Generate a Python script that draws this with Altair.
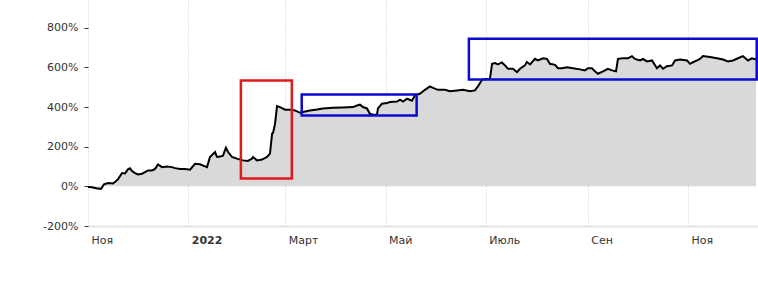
import altair as alt
import pandas as pd

# Day offsets from 2021-11-01 and portfolio return (%)
days = [0, 2.4, 4.9, 7.9, 9.7, 12.2, 15.2, 16.4, 18.2, 20.7, 22.5, 24.3, 25.5, 26.8, 28.6,
        30.4, 32.8, 34.7, 36.5, 38.9, 40.8, 42.6, 45.0, 48.1, 51.1, 52.9, 56.0, 59.0, 62.1,
        65.1, 68.1, 71.2, 72.4, 74.2, 77.3, 78.5, 80.3, 82.1, 83.9, 85.2, 87.6, 90.6, 94.3,
        97.3, 99.8, 100.4, 102.8, 105.9, 108.9, 110.7, 112.0, 112.6, 113.8, 115.0, 116.8,
        119.9, 122.9, 125.9, 129.0, 130.8, 135.0, 139.3, 142.9, 149.0, 155.1, 161.2, 163.6,
        165.4, 167.3, 169.7, 171.5, 173.4, 175.8, 176.4, 178.8, 181.9, 183.7, 188.0, 189.8,
        191.6, 194.1, 197.1, 198.9, 201.9, 205.0, 208.0, 209.9, 212.9, 217.2, 220.2, 224.5,
        228.1, 232.4, 235.4, 237.2, 239.7, 242.7, 244.5, 245.8, 247.6, 249.4, 251.8, 253.7,
        255.5, 258.5, 261.0, 262.8, 265.8, 267.0, 268.9, 271.9, 273.7, 276.8, 279.2, 281.0,
        284.1, 285.9, 288.3, 291.4, 295.0, 299.3, 302.3, 304.2, 306.6, 308.4, 310.2, 313.3,
        316.3, 318.8, 321.2, 322.4, 325.4, 328.5, 330.9, 332.7, 335.8, 337.6, 340.0, 343.1,
        346.1, 348.0, 349.8, 352.2, 355.3, 357.1, 360.1, 364.4, 366.2, 368.0, 370.5, 372.3,
        374.1, 378.4, 382.6, 386.3, 389.3, 392.4, 395.4, 398.4, 401.5, 403.9, 406.4]
returns = [-3, -5, -10, -13, 10, 17, 15, 22, 35, 67, 65, 86, 91, 77, 67,
           60, 63, 72, 80, 80, 88, 111, 97, 100, 97, 92, 87, 88, 84,
           114, 111, 101, 97, 148, 173, 148, 150, 155, 195, 173, 148, 140, 131,
           128, 140, 148, 131, 135, 148, 165, 266, 270, 316, 405, 400,
           387, 387, 383, 371, 375, 383, 388, 393, 397, 398, 400, 408,
           412, 400, 393, 366, 361, 363, 393, 417, 420, 425, 428, 437,
           428, 442, 432, 459, 467, 487, 504, 497, 487, 487, 480, 484,
           487, 480, 484, 504, 538, 541, 541, 618, 622, 615, 625, 610,
           593, 593, 576, 593, 610, 627, 615, 643, 635, 646, 643, 618,
           613, 596, 596, 601, 596, 590, 585, 596, 596, 580, 568, 580,
           593, 585, 580, 643, 646, 646, 657, 643, 635, 643, 630, 635,
           596, 610, 593, 606, 610, 635, 640, 635, 618, 626, 635, 643,
           657, 652, 646, 640, 630, 635, 646, 657, 635, 646, 640]

# Highlight boxes
box_start = ["2022-02-02T00:00:00", "2022-03-11T00:00:00", "2022-06-20T17:00:00"]
box_end = ["2022-03-05T00:00:00", "2022-05-19T22:00:00", "2022-12-12T19:00:00"]
box_low = [40, 358, 539]
box_high = [534, 463, 745]
box_color = ["red", "blue", "blue"]

start = pd.Timestamp("2021-11-01")
dates = [(start + pd.Timedelta(days=d)).strftime("%Y-%m-%dT%H:%M:%S") for d in days]
df = pd.DataFrame({"date": dates, "ret": returns})
boxes = pd.DataFrame({"x0": box_start, "x1": box_end, "y0": box_low, "y1": box_high, "c": box_color})

tick_vals = [alt.DateTime(year=2021, month=11, date=1),
             alt.DateTime(year=2022, month=1, date=1),
             alt.DateTime(year=2022, month=3, date=1),
             alt.DateTime(year=2022, month=5, date=1),
             alt.DateTime(year=2022, month=7, date=1),
             alt.DateTime(year=2022, month=9, date=1),
             alt.DateTime(year=2022, month=11, date=1)]

label_expr = ("month(datum.value)==0 ? '2022' : month(datum.value)==2 ? 'Март' : "
              "month(datum.value)==4 ? 'Май' : month(datum.value)==6 ? 'Июль' : "
              "month(datum.value)==8 ? 'Сен' : 'Ноя'")

xscale = alt.Scale(domain=[alt.DateTime(year=2021, month=11, date=1),
                           alt.DateTime(year=2022, month=12, date=13, hours=14)], nice=False)
yscale = alt.Scale(domain=[-200, 940], nice=False, zero=False)

x_axis = alt.Axis(values=tick_vals, labelExpr=label_expr, title=None, grid=True,
                  gridDash=[1, 2], gridColor="#c8c8c8", gridWidth=1,
                  ticks=False, domainColor="#e4e4e4", domainWidth=2,
                  labelAlign="left", labelOffset=3, labelPadding=8,
                  labelFont="DejaVu Sans", labelFontSize=11, labelColor="#333",
                  labelFontWeight={"condition": {"test": "month(datum.value) == 0", "value": "bold"},
                                   "value": "normal"})
y_axis = alt.Axis(values=[-200, 0, 200, 400, 600, 800], labelExpr="datum.value + '%'",
                  title=None, grid=False, domain=False, tickSize=4, tickColor="#333",
                  tickWidth=1, labelPadding=6, labelFont="DejaVu Sans", labelFontSize=11,
                  labelColor="#333")

base = alt.Chart(df)
area = base.mark_area(color="#d9d9d9", opacity=1).encode(
    x=alt.X("date:T", scale=xscale, axis=x_axis),
    y=alt.Y("ret:Q", scale=yscale, axis=y_axis),
    y2=alt.datum(0),
)
line = base.mark_line(color="black", strokeWidth=2).encode(
    x=alt.X("date:T", scale=xscale),
    y=alt.Y("ret:Q", scale=yscale),
)
rects = alt.Chart(boxes).mark_rect(fill=None, strokeWidth=2.5, fillOpacity=0).encode(
    x=alt.X("x0:T", scale=xscale),
    x2="x1:T",
    y=alt.Y("y0:Q", scale=yscale),
    y2="y1:Q",
    stroke=alt.Stroke("c:N", scale=alt.Scale(domain=["red", "blue"], range=["#e0191e", "#0a0ad0"]),
                      legend=None),
)

chart = alt.layer(area, line, rects).properties(
    width=670, height=226,
    autosize=alt.AutoSizeParams(type="none"),
    padding={"left": 88, "top": 0, "right": 0, "bottom": 63},
    background="white",
).configure_view(stroke=None)

chart.save("out.html", embed_options={"renderer": "svg", "actions": False})
